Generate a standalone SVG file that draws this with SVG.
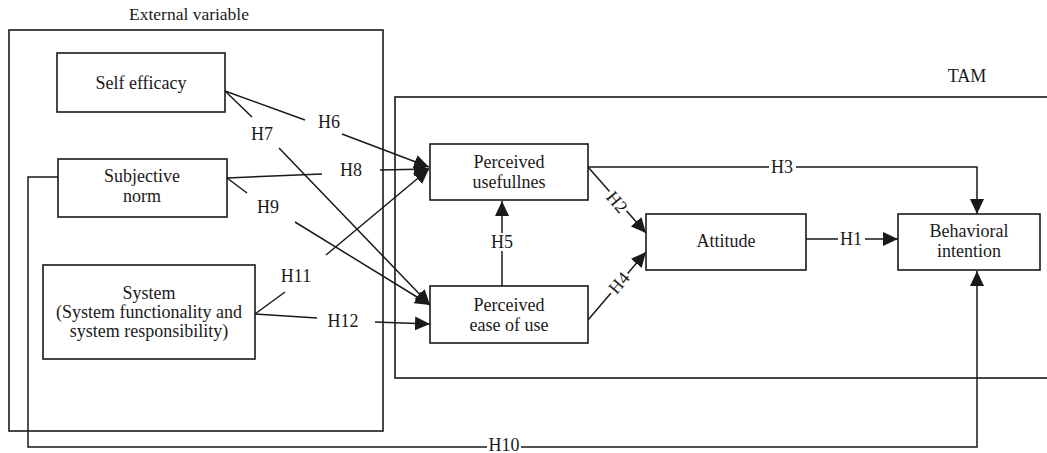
<svg xmlns="http://www.w3.org/2000/svg" width="1047" height="453" viewBox="0 0 1047 453" font-family="'Liberation Serif', 'Times New Roman', 'DejaVu Serif', serif">
<defs>
<style>
text{font-family:'Liberation Serif','Times New Roman','DejaVu Serif',serif;font-size:18px;fill:#1a1a1a;text-anchor:middle}
.box{fill:#fff;stroke:#1a1a1a;stroke-width:1.6}
.frame{fill:none;stroke:#1a1a1a;stroke-width:1.6}
.c{fill:none;stroke:#1a1a1a;stroke-width:1.5}
.title{font-size:17.5px}
</style>
<marker id="ah" markerUnits="userSpaceOnUse" markerWidth="16" markerHeight="14" refX="15" refY="7" orient="auto">
<path d="M0,0 L15,7 L0,14 Z" fill="#1a1a1a"/>
</marker>
</defs>

<g id="frames">
<text class="title" x="189" y="20">External variable</text>
<rect class="frame" x="9" y="30" width="374" height="401"/>
<text x="967" y="82">TAM</text>
<rect class="frame" x="395" y="97" width="670" height="281"/>
</g>

<g id="connectors">
<path class="c" d="M225,91 L305,120"/>
<path class="c" d="M342,134 L429,167" marker-end="url(#ah)"/>
<path class="c" d="M225,91 L252,117"/>
<path class="c" d="M279,148 L430,305" marker-end="url(#ah)"/>
<path class="c" d="M227,178 L322,174"/>
<path class="c" d="M380,170 L429,169" marker-end="url(#ah)"/>
<path class="c" d="M227,178 L247,193"/>
<path class="c" d="M295,222 L430,305" marker-end="url(#ah)"/>
<path class="c" d="M255,314 L285,292"/>
<path class="c" d="M326,255 L429,169" marker-end="url(#ah)"/>
<path class="c" d="M255,314 L317,318"/>
<path class="c" d="M375,322 L430,324" marker-end="url(#ah)"/>
<path class="c" d="M502,286 L502,201" marker-end="url(#ah)"/>
<path class="c" d="M588,167 L646,233" marker-end="url(#ah)"/>
<path class="c" d="M588,320 L646,252" marker-end="url(#ah)"/>
<path class="c" d="M588,167 L977,167 L977,214" marker-end="url(#ah)"/>
<path class="c" d="M806,239 L898,239" marker-end="url(#ah)"/>
<path class="c" d="M58,177 L28,177 L28,447 L977,447 L977,271" marker-end="url(#ah)"/>

<g id="labels">
<text x="329" y="128">H6</text>
<text x="262" y="140">H7</text>
<text x="351" y="176">H8</text>
<text x="268" y="213">H9</text>
<text x="296" y="282">H11</text>
<text x="343" y="327">H12</text>
<rect x="489" y="233" width="26" height="18" fill="#fff"/>
<text x="502" y="248">H5</text>
<rect x="769" y="159" width="27" height="16" fill="#fff"/>
<text x="782" y="173">H3</text>
<rect x="838" y="231" width="27" height="16" fill="#fff"/>
<text x="851" y="245">H1</text>
<rect x="487" y="439" width="34" height="14" fill="#fff"/>
<text x="504" y="451">H10</text>
<g transform="translate(617,202) rotate(50)">
<rect x="-13" y="-9" width="26" height="17" fill="#fff"/>
<text x="0" y="6">H2</text>
</g>
<g transform="translate(619,283) rotate(-50)">
<rect x="-13" y="-9" width="26" height="17" fill="#fff"/>
<text x="0" y="6">H4</text>
</g>
</g>
</g>

<g id="self-efficacy">
<rect class="box" x="57" y="53" width="168" height="59"/>
<text x="141" y="89">Self efficacy</text>
</g>
<g id="subjective-norm">
<rect class="box" x="58" y="159" width="169" height="58"/>
<text x="142" y="182">Subjective</text>
<text x="142" y="202">norm</text>
</g>
<g id="system">
<rect class="box" x="43" y="265" width="212" height="94"/>
<text x="149" y="299">System</text>
<text x="149" y="318">(System functionality and</text>
<text x="149" y="337">system responsibility)</text>
</g>
<g id="perceived-usefulness">
<rect class="box" x="430" y="144" width="158" height="56"/>
<text x="509" y="168">Perceived</text>
<text x="509" y="188">usefullnes</text>
</g>
<g id="perceived-ease-of-use">
<rect class="box" x="430" y="286" width="158" height="57"/>
<text x="509" y="311">Perceived</text>
<text x="509" y="331">ease of use</text>
</g>
<g id="attitude">
<rect class="box" x="646" y="214" width="160" height="56"/>
<text x="726" y="247">Attitude</text>
</g>
<g id="behavioral-intention">
<rect class="box" x="898" y="214" width="142" height="56"/>
<text x="969" y="237">Behavioral</text>
<text x="969" y="257">intention</text>
</g>
</svg>
